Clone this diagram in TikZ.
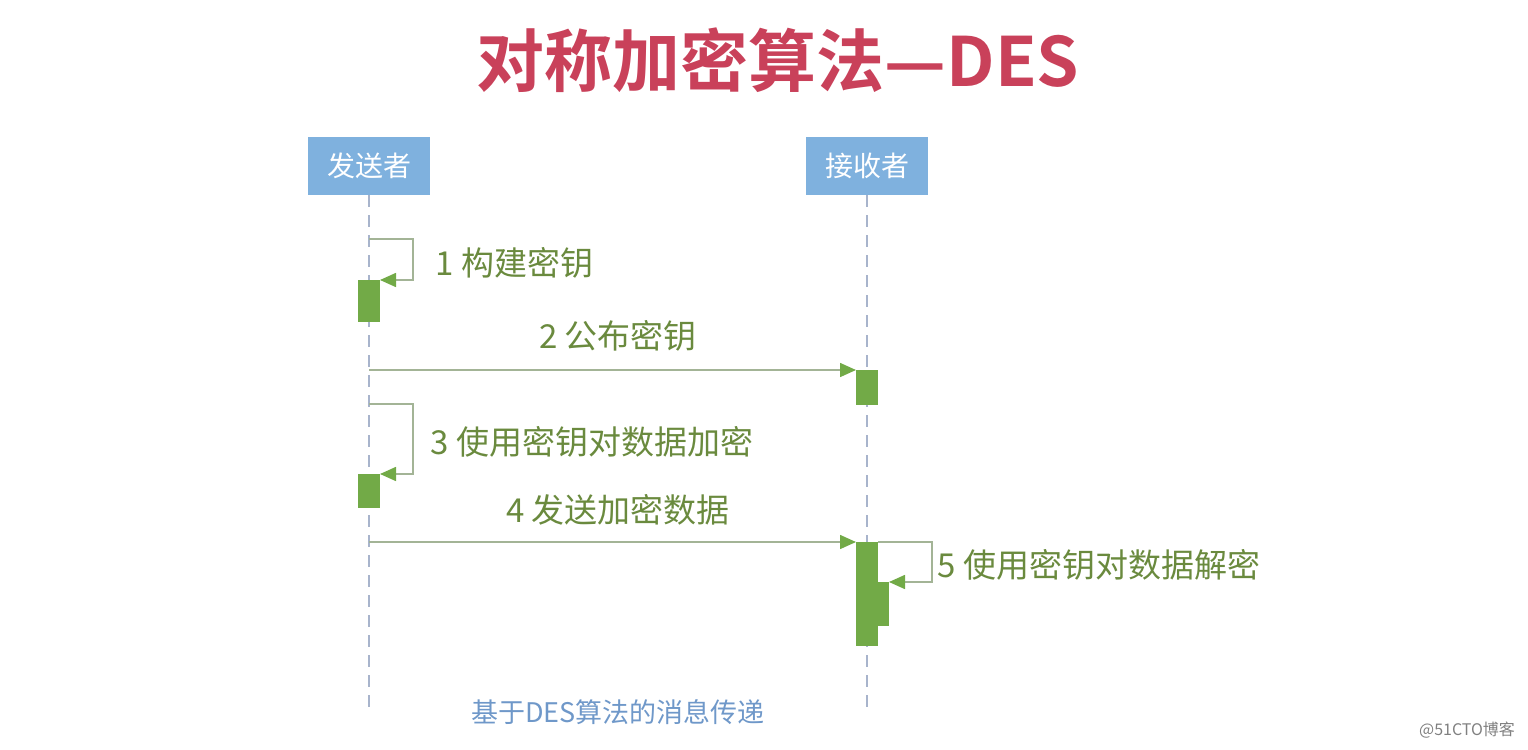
\documentclass[tikz,border=0pt]{standalone}
\usepackage{fontspec}
\setmainfont{Noto Sans CJK SC}
\newfontfamily\cjkb{Noto Sans CJK SC Bold}
\usetikzlibrary{arrows.meta}
\definecolor{titlered}{HTML}{C9415A}
\definecolor{boxblue}{HTML}{7FB1DE}
\definecolor{lifeline}{HTML}{A8B4CC}
\definecolor{msgline}{HTML}{A3B496}
\definecolor{barg}{HTML}{72AA47}
\definecolor{labg}{HTML}{6A8A3E}
\definecolor{capblue}{HTML}{6F98C9}
\tikzset{
  actor/.style={fill=boxblue,minimum width=61pt,minimum height=29pt,inner sep=0pt,text=white,font=\fontsize{14}{16}\selectfont},
  life/.style={lifeline,dashed,dash pattern=on 6pt off 4pt,line width=0.6pt},
  msg/.style={msgline,line width=0.8pt,-{Triangle[length=8pt,width=7pt,color=barg]}},
  bar/.style={fill=barg,draw=none},
  lab/.style={text=labg,font=\fontsize{16.5}{18}\selectfont,inner sep=0pt}
}
\begin{document}
\begin{tikzpicture}[x=0.5pt,y=-0.5pt]
\useasboundingbox (0,0) rectangle (1528,750);
\node[text=titlered,font=\cjkb\fontsize{34}{40}\selectfont] (title) at (778,60) {对称加密算法—DES};
\node[actor] (s) at (369,166) {发送者};
\node[actor] (r) at (867,166) {接收者};
\coordinate (se) at (369,715);
\coordinate (re) at (867,715);
\draw[life] (s.south) -- (se);
\draw[life] (r.south) -- (re);
% bars
\fill[bar] (358,280) rectangle (380,322);
\fill[bar] (856,370) rectangle (878,405);
\fill[bar] (358,474) rectangle (380,508);
\fill[bar] (856,542) rectangle (878,646);
\fill[bar] (878,582) rectangle (889,626);
% named points
\coordinate (a1) at (369,239); \coordinate (b1) at (380,280);
\coordinate (a2) at (369,370); \coordinate (b2) at (856,370);
\coordinate (a3) at (369,404); \coordinate (b3) at (380,474);
\coordinate (a4) at (369,542); \coordinate (b4) at (856,542);
\coordinate (a5) at (878,542); \coordinate (b5) at (889,582);
\draw[msg] (a1) -- (413,239) -- (413,280) -- (b1);
\draw[msg] (a2) -- (b2);
\draw[msg] (a3) -- (413,404) -- (413,474) -- (b3);
\draw[msg] (a4) -- (b4);
\draw[msg] (a5) -- (932,542) -- (932,582) -- (b5);
\node[lab,anchor=west] (l1) at (435,263) {1 构建密钥};
\node[lab] (l2) at (618,336) {2 公布密钥};
\node[lab,anchor=west] (l3) at (430,442) {3 使用密钥对数据加密};
\node[lab] (l4) at (618,510) {4 发送加密数据};
\node[lab,anchor=west] (l5) at (937,565) {5 使用密钥对数据解密};
\node[text=capblue,font=\fontsize{13.5}{15}\selectfont] (cap) at (618,712) {基于DES算法的消息传递};
\node[text=gray,font=\fontsize{8}{10}\selectfont,anchor=east] (wm) at (1522,730) {@51CTO博客};
\end{tikzpicture}
\end{document}
